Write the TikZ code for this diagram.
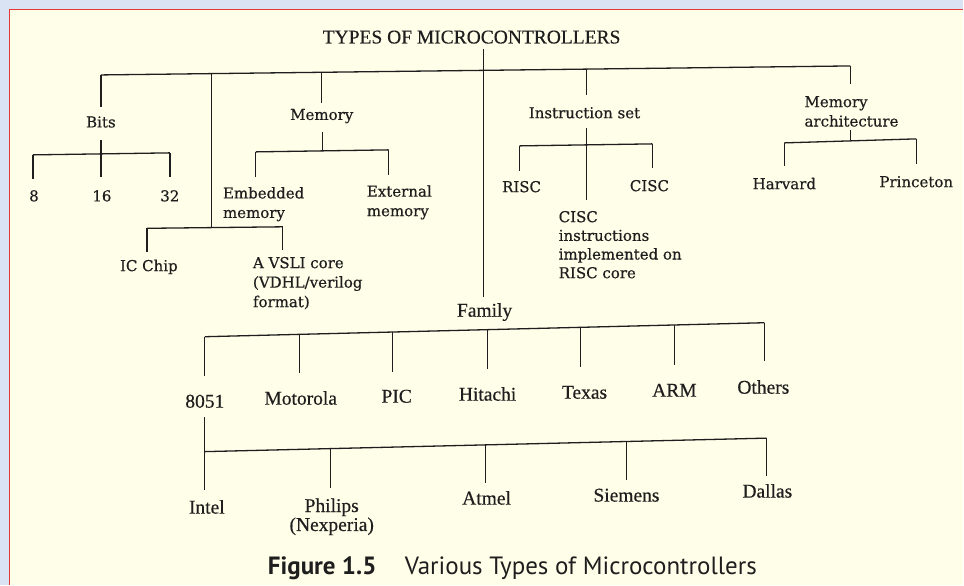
\documentclass[tikz,border=0pt]{standalone}
\usepackage{fontspec}
\setmainfont{Liberation Serif}[FakeBold=0.4]
\newfontfamily\upfont{DejaVu Serif}[FakeBold=0.5]
\newfontfamily\capfont{PT Sans}
\definecolor{pageblue}{HTML}{DAE3F3}
\definecolor{paper}{HTML}{FFFEE8}
\definecolor{edge}{HTML}{E53935}
\definecolor{ink}{HTML}{1E1E1E}
\begin{document}
\begin{tikzpicture}[x=1pt,y=-1pt,
  link/.style={draw=ink,line width=1.3pt},
  gap/.style={shorten >=#1pt},
  head/.style={inner sep=0pt,text=ink,font=\fontsize{19.5}{22}\selectfont},
  upper/.style={inner sep=0pt,text=ink,font=\upfont\fontsize{15}{19.5}\selectfont},
  lower/.style={inner sep=0pt,text=ink,font=\fontsize{19.5}{19}\selectfont},
  capt/.style={inner sep=0pt,text=ink,anchor=base west},
]
% page background and frame
\fill[pageblue] (0,0) rectangle (964,585);
\fill[paper] (9.5,9.5) rectangle (964,585);
\draw[edge,line width=1.6pt] (9.5,585) -- (9.5,9.5) -- (964,9.5);
\useasboundingbox (0,0) rectangle (964,585);

% ---------- labels ----------
\node[head,anchor=base] (title) at (472,43.5) {TYPES OF MICROCONTROLLERS};

\node[upper,anchor=base] (bits) at (101,127.5) {Bits};
\node[upper,anchor=base] (n8) at (34,201.5) {8};
\node[upper,anchor=base] (n16) at (102,201.5) {16};
\node[upper,anchor=base] (n32) at (170,201.5) {32};

\node[upper,anchor=base] (icchip) at (149,271.3) {IC Chip};
\node[upper,anchor=north west,align=left] (vsli) at (253,257) {A VSLI core\\(VDHL/verilog\\format)};

\node[upper,anchor=base] (memory) at (322,120) {Memory};
\node[upper,anchor=north west,align=left] (embedded) at (223,187) {Embedded\\memory};
\node[upper,anchor=north west,align=left] (external) at (367,185.2) {External\\memory};

\node[upper,anchor=base] (instr) at (585,118.3) {Instruction set};
\node[upper,anchor=base] (risc) at (522,192.3) {RISC};
\node[upper,anchor=base] (cisc) at (650,191.3) {CISC};
\node[upper,anchor=north west,align=left,font=\upfont\fontsize{15}{18.7}\selectfont] (cisconrisc) at (559,211) {CISC\\instructions\\implemented on\\RISC core};

\node[upper,anchor=north west,align=left] (memarch) at (805,96) {Memory\\architecture};
\node[upper,anchor=base] (harvard) at (785,189.3) {Harvard};
\node[upper,anchor=base] (princeton) at (917,187.3) {Princeton};

\node[lower,anchor=base] (family) at (485,317) {Family};
\node[lower,anchor=base] (i8051) at (205,408) {8051};
\node[lower,anchor=base] (motorola) at (301,405) {Motorola};
\node[lower,anchor=base] (pic) at (397,403) {PIC};
\node[lower,anchor=base] (hitachi) at (488,401) {Hitachi};
\node[lower,anchor=base] (texas) at (585,399) {Texas};
\node[lower,anchor=base] (arm) at (675,397) {ARM};
\node[lower,anchor=base] (others) at (764,394) {Others};

\node[lower,anchor=base] (intel) at (207,514) {Intel};
\node[lower,anchor=north,align=center] (philips) at (332,498.7) {Philips\\(Nexperia)};
\node[lower,anchor=base] (atmel) at (487,505) {Atmel};
\node[lower,anchor=base] (siemens) at (627,502) {Siemens};
\node[lower,anchor=base] (dallas) at (768,498) {Dallas};

\node[capt,font=\capfont\bfseries\fontsize{25}{28}\selectfont] (fignum) at (268,575) {Figure 1.5};
\node[capt,font=\capfont\fontsize{25}{28}\selectfont] (figtitle) at (405,575) {Various Types of Microcontrollers};

% ---------- junction points on the bars ----------
\coordinate (TL) at (101,75);   \coordinate (TR) at (851,66);
\coordinate (jchip) at (212,73.7);
\coordinate (jmem) at (322,72.3);
\coordinate (jmain) at (484,70.4);
\coordinate (jinstr) at (587,69.2);

\coordinate (bitsL) at (33,155);  \coordinate (bitsR) at (170,153);
\coordinate (chipL) at (147,228.5); \coordinate (chipR) at (283,227);
\coordinate (chipJ) at (212,227.8);
\coordinate (memL) at (256,152); \coordinate (memR) at (389,150);
\coordinate (memJ) at (323,151);
\coordinate (insL) at (520,146); \coordinate (insR) at (653,144);
\coordinate (archL) at (785,143); \coordinate (archR) at (917,139);
\coordinate (archJ) at (851,141);

\coordinate (famL) at (205,337); \coordinate (famR) at (765,323);
\coordinate (f2) at (300,334.6); \coordinate (f3) at (393,332.3);
\coordinate (f4) at (488,329.9); \coordinate (f5) at (581,327.6);
\coordinate (f6) at (675,325.25);

\coordinate (venL) at (205,452); \coordinate (venR) at (767,438.5);
\coordinate (v2) at (331,448.9); \coordinate (v3) at (486,445);
\coordinate (v4) at (627,441.5);

% ---------- top level ----------
\draw[link] (TL) -- (TR);
\draw[link,shorten <=5pt,gap=5.7] (title.south -| jmain) -- (jmain |- family.north);
\draw[link,gap=9.5] (TL) -- (TL |- bits.north);
\draw[link] (jchip) -- (chipJ);
\draw[link,gap=6] (jmem) -- (jmem |- memory.north);
\draw[link,gap=12.3] (jinstr) -- (jinstr |- instr.north);
\draw[link,gap=12.3] (TR) -- (TR |- memarch.north);

% ---------- bits ----------
\draw[link,shorten <=12.5pt,gap=12.9] (bits.south) -- (bits.south |- n16.north);
\draw[link] (bitsL) -- (bitsR);
\draw[link,gap=10.9] (bitsL) -- (bitsL |- n8.north);
\draw[link,gap=12.9] (bitsR) -- (bitsR |- n32.north);

% ---------- chip / core ----------
\draw[link] (chipL) -- (chipR);
\draw[link,gap=7.3] (chipL) -- (chipL |- icchip.north);
\draw[link,gap=6.3] (chipR) -- (chipR |- vsli.north);

% ---------- memory ----------
\draw[link,shorten <=8.5pt] (memory.south -| memJ) -- (memJ);
\draw[link] (memL) -- (memR);
\draw[link,gap=10.3] (memL) -- (memL |- embedded.north);
\draw[link,gap=10.5] (memR) -- (memR |- external.north);

% ---------- instruction set ----------
\draw[link,shorten <=9.7pt,gap=11.3] (instr.south -| jinstr) -- (jinstr |- cisconrisc.north);
\draw[link] (insL) -- (insR);
\draw[link,gap=9.7] (insL) -- (insL |- risc.north);
\draw[link,gap=11.7] (insR) -- (insR |- cisc.north);

% ---------- memory architecture ----------
\draw[link,shorten <=2.7pt] (memarch.south -| archJ) -- (archJ);
\draw[link] (archL) -- (archR);
\draw[link,gap=11.3] (archL) -- (archL |- harvard.north);
\draw[link,gap=11.7] (archR) -- (archR |- princeton.north);

% ---------- family ----------
\draw[link] (famL) -- (famR);
\draw[link,gap=18.8] (famL) -- (famL |- i8051.north);
\draw[link,gap=17.7] (f2) -- (f2 |- motorola.north);
\draw[link,gap=18] (f3) -- (f3 |- pic.north);
\draw[link,gap=17.7] (f4) -- (f4 |- hitachi.north);
\draw[link,gap=19] (f5) -- (f5 |- texas.north);
\draw[link,gap=19] (f6) -- (f6 |- arm.north);
\draw[link,gap=19] (famR) -- (famR |- others.north);

% ---------- 8051 vendors ----------
\draw[link,shorten <=9pt,gap=9.7] (i8051.south) -- (i8051.south |- intel.north);
\draw[link] (venL) -- (venR);
\draw[link,gap=10.7] (v2) -- (v2 |- philips.north);
\draw[link,gap=7.7] (v3) -- (v3 |- atmel.north);
\draw[link,gap=8] (v4) -- (v4 |- siemens.north);
\draw[link,gap=7.7] (venR) -- (venR |- dallas.north);
\end{tikzpicture}
\end{document}
